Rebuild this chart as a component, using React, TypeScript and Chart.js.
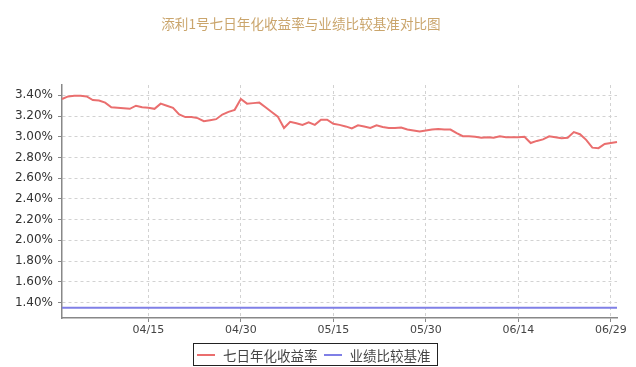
import React, { useEffect, useRef } from "react";
import { Chart, registerables } from "chart.js";

Chart.register(...registerables);

const TITLE = "添利1号七日年化收益率与业绩比较基准对比图";
const SERIES_YIELD = "七日年化收益率";
const SERIES_BENCH = "业绩比较基准";

const dates: string[] = [
  "04/01", "04/02", "04/03", "04/04", "04/05", "04/06", "04/07", "04/08", "04/09", "04/10",
  "04/11", "04/12", "04/13", "04/14", "04/15", "04/16", "04/17", "04/18", "04/19", "04/20",
  "04/21", "04/22", "04/23", "04/24", "04/25", "04/26", "04/27", "04/28", "04/29", "04/30",
  "05/01", "05/02", "05/03", "05/04", "05/05", "05/06", "05/07", "05/08", "05/09", "05/10",
  "05/11", "05/12", "05/13", "05/14", "05/15", "05/16", "05/17", "05/18", "05/19", "05/20",
  "05/21", "05/22", "05/23", "05/24", "05/25", "05/26", "05/27", "05/28", "05/29", "05/30",
  "05/31", "06/01", "06/02", "06/03", "06/04", "06/05", "06/06", "06/07", "06/08", "06/09",
  "06/10", "06/11", "06/12", "06/13", "06/14", "06/15", "06/16", "06/17", "06/18", "06/19",
  "06/20", "06/21", "06/22", "06/23", "06/24", "06/25", "06/26", "06/27", "06/28", "06/29",
  "06/30",
];

const yieldValues: number[] = [
  3.365, 3.39, 3.395, 3.395, 3.39, 3.355, 3.35, 3.33, 3.285, 3.28,
  3.275, 3.27, 3.3, 3.285, 3.28, 3.27, 3.32, 3.3, 3.28, 3.215,
  3.19, 3.19, 3.18, 3.15, 3.16, 3.17, 3.215, 3.24, 3.26, 3.365,
  3.32, 3.325, 3.33, 3.285, 3.24, 3.195, 3.085, 3.145, 3.13, 3.115,
  3.14, 3.115, 3.165, 3.165, 3.125, 3.115, 3.1, 3.08, 3.11, 3.1,
  3.085, 3.11, 3.095, 3.085, 3.085, 3.09, 3.07, 3.06, 3.05, 3.06,
  3.07, 3.075, 3.07, 3.07, 3.035, 3.005, 3.005, 3.0, 2.99, 2.995,
  2.99, 3.005, 2.995, 2.995, 2.995, 3.0, 2.94, 2.96, 2.975, 3.005,
  2.995, 2.985, 2.99, 3.045, 3.025, 2.97, 2.895, 2.89, 2.93, 2.94,
  2.95,
];

const benchmarkPoints = [
  { x: "04/01", y: 1.35 },
  { x: "06/30", y: 1.35 },
];

const xTickLabels: string[] = ["04/15", "04/30", "05/15", "05/30", "06/14", "06/29"];
const yTickValues: number[] = [1.4, 1.6, 1.8, 2.0, 2.2, 2.4, 2.6, 2.8, 3.0, 3.2, 3.4];
const Y_MIN = 1.25;
const Y_MAX = 3.5;

const RED = "#ea6e6e";
const BLUE = "#7f7fe6";

export default function App() {
  const canvasRef = useRef<HTMLCanvasElement | null>(null);

  useEffect(() => {
    if (!canvasRef.current) return;
    const chart = new Chart(canvasRef.current, {
      type: "line",
      data: {
        labels: dates,
        datasets: [
          {
            label: SERIES_YIELD,
            data: yieldValues,
            borderColor: RED,
            backgroundColor: RED,
            borderWidth: 2,
            pointRadius: 0,
            tension: 0,
          },
          {
            label: SERIES_BENCH,
            data: benchmarkPoints as any,
            borderColor: BLUE,
            backgroundColor: BLUE,
            borderWidth: 2,
            pointRadius: 0,
            tension: 0,
          },
        ],
      },
      options: {
        animation: false,
        responsive: true,
        maintainAspectRatio: false,
        layout: { padding: { top: 85, right: 19, left: 0, bottom: 0 } },
        plugins: {
          legend: { display: false },
          title: { display: false },
          tooltip: { enabled: false },
        },
        scales: {
          x: {
            type: "category",
            offset: false,
            afterBuildTicks: (scale: any) => {
              scale.ticks = scale.ticks.filter((t: any) =>
                xTickLabels.includes(dates[t.value])
              );
            },
            afterFit: (scale: any) => {
              scale.height = 49;
            },
            ticks: {
              autoSkip: false,
              maxRotation: 0,
              padding: 2,
              color: "#444",
              font: { family: "DejaVu Sans", size: 11 },
            },
            grid: {
              color: "#d2d2d2",
              lineWidth: 1,
              tickLength: 4,
              tickColor: "#888",
              tickBorderDash: [],
            },
            border: { color: "#888", width: 1.5, dash: [3, 3] },
          },
          y: {
            type: "linear",
            min: Y_MIN,
            max: Y_MAX,
            afterBuildTicks: (scale: any) => {
              scale.ticks = yTickValues.map((v) => ({ value: v }));
            },
            afterFit: (scale: any) => {
              scale.width = 62;
            },
            ticks: {
              padding: 5,
              color: "#333",
              font: { family: "DejaVu Sans", size: 12 },
              callback: (v: any) => Number(v).toFixed(2) + "%",
            },
            grid: {
              color: "#d2d2d2",
              lineWidth: 1,
              tickLength: 4,
              tickColor: "#888",
              tickBorderDash: [],
            },
            border: { color: "#888", width: 1.5, dash: [3, 3] },
          },
        },
      },
    } as any);
    return () => chart.destroy();
  }, []);

  const legendItem = (color: string, text: string, gap: number) => (
    <div style={{ display: "flex", alignItems: "center", marginRight: gap }}>
      <div style={{ width: 18, height: 2, background: color, marginRight: 8 }} />
      <span>{text}</span>
    </div>
  );

  return (
    <div
      style={{
        position: "fixed",
        left: 0,
        top: 0,
        width: 636,
        height: 367,
        background: "#fff",
        overflow: "hidden",
      }}
    >
      <canvas ref={canvasRef} style={{ position: "absolute", left: 0, top: 0 }} />
      <div
        style={{
          position: "absolute",
          left: 0,
          top: 16,
          width: 602,
          textAlign: "center",
          fontFamily: "'Noto Sans CJK SC', sans-serif",
          fontSize: 13.6,
          lineHeight: "14px",
          color: "#caa56c",
          whiteSpace: "nowrap",
        }}
      >
        {TITLE}
      </div>
      <div
        style={{
          position: "absolute",
          left: 193,
          top: 343,
          width: 245,
          height: 23,
          boxSizing: "border-box",
          border: "1.5px solid #222",
          display: "flex",
          alignItems: "center",
          paddingLeft: 3,
          fontFamily: "'Noto Sans CJK SC', sans-serif",
          fontSize: 13.5,
          color: "#444",
          whiteSpace: "nowrap",
        }}
      >
        {legendItem(RED, SERIES_YIELD, 6)}
        {legendItem(BLUE, SERIES_BENCH, 0)}
      </div>
    </div>
  );
}
